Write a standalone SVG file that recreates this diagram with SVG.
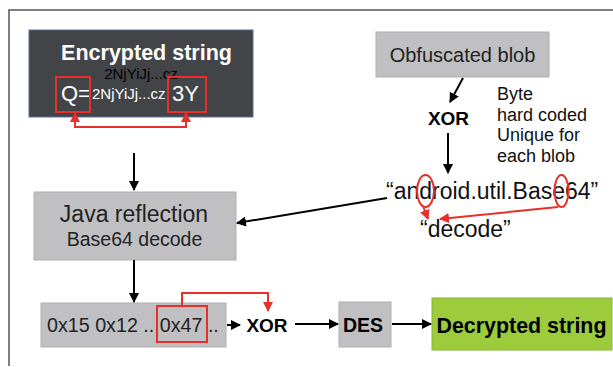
<svg xmlns="http://www.w3.org/2000/svg" width="613" height="367" viewBox="0 0 613 367">
<defs>
<style>
text{font-family:"Liberation Sans",Arial,sans-serif}
.blk{stroke:#000;stroke-width:2;fill:none}
.red{stroke:#e8302a;stroke-width:2;fill:none}
.gray{fill:#c0c0c2;stroke:#b0b0b2;stroke-width:1}
.b{font-weight:bold}
</style>
<marker id="ab" viewBox="0 0 10 10" refX="9" refY="5" markerWidth="5" markerHeight="5" orient="auto"><path d="M0,0L10,5L0,10z" fill="#000"/></marker>
<marker id="ar" viewBox="0 0 10 10" refX="9" refY="5" markerWidth="5" markerHeight="5" orient="auto"><path d="M0,0L10,5L0,10z" fill="#e8302a"/></marker>
<marker id="ars" viewBox="0 0 10 10" refX="9" refY="5" markerWidth="5" markerHeight="5" orient="auto-start-reverse"><path d="M0,0L10,5L0,10z" fill="#e8302a"/></marker>
</defs>
<rect width="613" height="367" fill="#fff"/>
<path d="M9,366V10H613" stroke="#555" stroke-width="1.5" fill="none"/>

<g id="encrypted">
<rect x="29" y="30" width="224" height="87" fill="#434447" stroke="#5a6f9a" stroke-width="1"/>
<text x="146.5" y="60" font-size="21.5" fill="#fff" class="b" text-anchor="middle">Encrypted string</text>
<text x="141" y="79" font-size="15" fill="#000" text-anchor="middle">2NjYiJj...cz</text>
<text x="61" y="101" font-size="22" fill="#fff">Q=</text>
<text x="92" y="99" font-size="15" fill="#fff">2NjYiJj...cz</text>
<text x="172" y="101" font-size="22" fill="#fff">3Y</text>
<rect x="56" y="77" width="34" height="35" class="red" stroke-width="2.5"/>
<rect x="168" y="77" width="38" height="35" class="red" stroke-width="2.5"/>
</g>

<g id="blob">
<rect x="376" y="32" width="173" height="45" class="gray"/>
<text x="462.5" y="62" font-size="20" fill="#222" text-anchor="middle">Obfuscated blob</text>
</g>

<g id="xor1"><text x="448.5" y="125" font-size="19" class="b" text-anchor="middle">XOR</text></g>

<g id="note">
<text font-size="18" fill="#111"><tspan x="497" y="100">Byte</tspan><tspan x="497" y="121">hard coded</tspan><tspan x="497" y="141">Unique for</tspan><tspan x="497" y="162">each blob</tspan></text>
</g>

<g id="android">
<text x="386" y="199" font-size="23" fill="#111">“android.util.Base64”</text>
<ellipse cx="425.5" cy="191" rx="8.5" ry="16" class="red"/>
<ellipse cx="561.5" cy="191" rx="7" ry="16" class="red"/>
</g>

<g id="decode"><text x="420" y="237" font-size="23" fill="#111">“decode”</text></g>

<g id="java">
<rect x="34" y="192" width="202" height="68" class="gray"/>
<text x="134" y="222" font-size="23" fill="#222" text-anchor="middle">Java reflection</text>
<text x="134.5" y="246" font-size="19.5" fill="#222" text-anchor="middle">Base64 decode</text>
</g>

<g id="bytes">
<rect x="41" y="303" width="185" height="44" class="gray"/>
<text x="47" y="332" font-size="19.7" fill="#222">0x15 0x12 .. 0x47 ..</text>
<rect x="157" y="306" width="50" height="36" class="red" stroke-width="2.5"/>
</g>

<g id="xor2"><text x="267" y="332" font-size="19" class="b" text-anchor="middle">XOR</text></g>

<g id="des">
<rect x="339" y="302" width="52" height="45" class="gray"/>
<text x="363" y="332" font-size="19.5" class="b" text-anchor="middle">DES</text>
</g>

<g id="decrypted">
<rect x="432" y="298" width="180" height="52" fill="#9ccb3c" stroke="#8ab830" stroke-width="1"/>
<text x="521.5" y="333" font-size="21.4" class="b" text-anchor="middle">Decrypted string</text>
</g>

<g id="connectors">
<path d="M75,113V127H186V113" class="red" stroke-width="2.5" marker-start="url(#ars)" marker-end="url(#ar)"/>
<path d="M463,78L450,102" class="blk" marker-end="url(#ab)"/>
<path d="M448,133V173" class="blk" marker-end="url(#ab)"/>
<path d="M387,198L237,223" class="blk" marker-end="url(#ab)"/>
<path d="M134,153V190" class="blk" marker-end="url(#ab)"/>
<path d="M134,260V302" class="blk" marker-end="url(#ab)"/>
<path d="M423,206L428,219" class="red" stroke-width="1.5" marker-end="url(#ar)"/>
<path d="M558,207L440,219" class="red" stroke-width="1.5" marker-end="url(#ar)"/>
<path d="M182,306V293H268V311" class="red" marker-end="url(#ar)"/>
<path d="M227,325H240" class="blk" marker-end="url(#ab)"/>
<path d="M295,324H338" class="blk" marker-end="url(#ab)"/>
<path d="M392,324H431" class="blk" marker-end="url(#ab)"/>
</g>
</svg>
